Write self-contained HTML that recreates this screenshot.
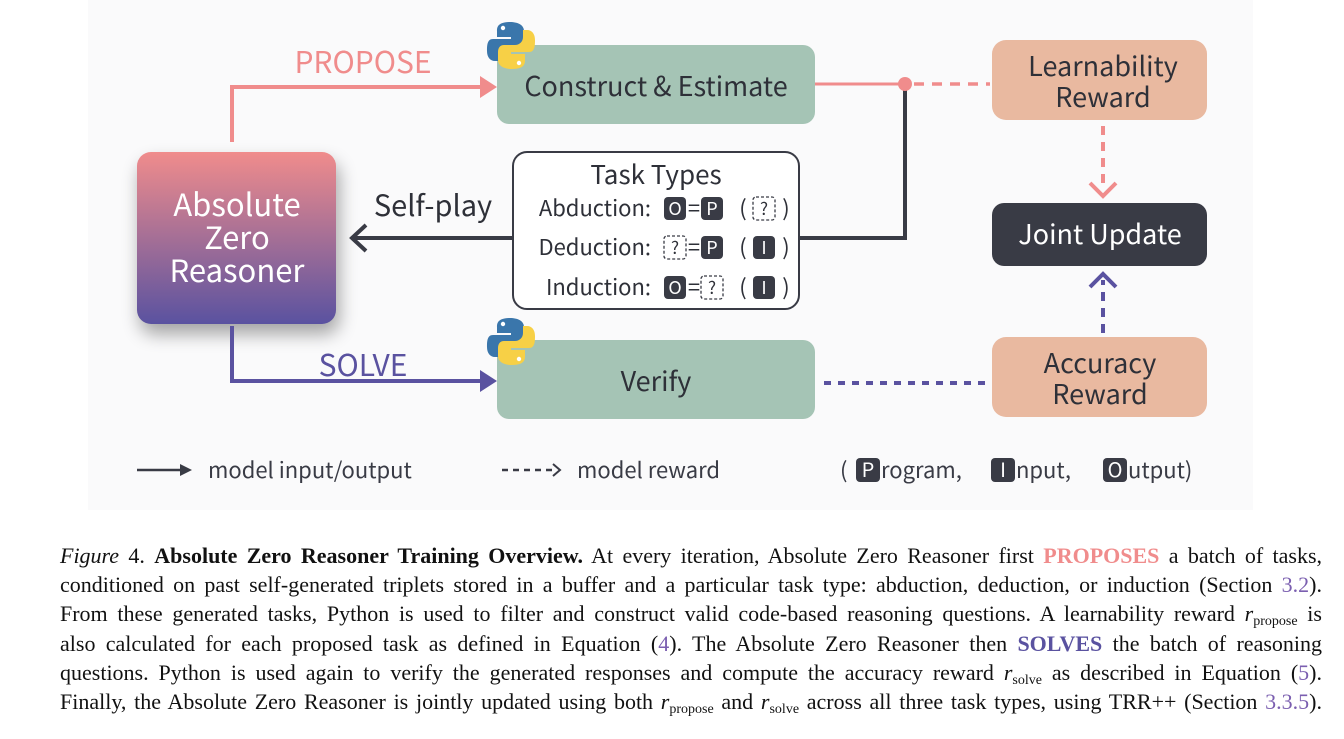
<!DOCTYPE html>
<html><head><meta charset="utf-8"><style>
body{margin:0;width:1344px;height:739px;background:#fff;position:relative;overflow:hidden}
.cap{position:absolute;left:60px;width:1262px;font-family:"Liberation Serif",serif;font-size:22px;color:#111;text-align:justify;text-align-last:justify;white-space:nowrap;line-height:22px}
.cap span.l{color:#7b5fb0}
.s{font-size:14px;vertical-align:-4px}
</style></head><body>
<svg width="1344" height="739" style="position:absolute;left:0;top:0" font-family="'Noto Sans CJK KR','DejaVu Sans',sans-serif">
<defs>
<linearGradient id="g" x1="0" y1="0" x2="0" y2="1"><stop offset="0" stop-color="#f08c8c"/><stop offset="1" stop-color="#5a52a0"/></linearGradient>
<filter id="sh" x="-30%" y="-30%" width="160%" height="160%"><feGaussianBlur stdDeviation="9"/></filter>
<g id="py">
<path d="M23 0 C10 0 10 6 10 9 V15 H24 V17 H6 C0 17 0 24 0 29 C0 35 3 39 8 39 H12 V32 C12 27 16 24 20 24 H31 C35 24 37 21 37 17 V9 C37 3 31 0 23 0Z" fill="#3a76ab"/>
<path d="M25 47 C38 47 38 41 38 38 V32 H24 V30 H42 C48 30 48 23 48 18 C48 12 45 8 40 8 H36 V15 C36 20 32 23 28 23 H17 C13 23 11 26 11 30 V38 C11 44 17 47 25 47Z" fill="#f7d046"/>
<circle cx="16" cy="6" r="2.2" fill="#fff"/><circle cx="32" cy="41" r="2.2" fill="#fff"/>
</g>
</defs>
<rect x="88" y="0" width="1165" height="510" fill="#fafafb"/>
<rect x="140" y="162" width="199" height="172" rx="14" fill="#000" opacity="0.35" filter="url(#sh)"/>
<rect x="137" y="152" width="199" height="172" rx="14" fill="url(#g)"/>
<text x="237" y="216" fill="#fff" font-size="31" text-anchor="middle">Absolute</text>
<text x="237" y="249" fill="#fff" font-size="31" text-anchor="middle">Zero</text>
<text x="237" y="282" fill="#fff" font-size="31" text-anchor="middle">Reasoner</text>
<polyline points="232,142 232,87 482,87" fill="none" stroke="#f08c8c" stroke-width="4"/>
<polygon points="480,76 497,87 480,98" fill="#f08c8c"/>
<text x="363" y="73" fill="#f08c8c" font-size="30" text-anchor="middle">PROPOSE</text>
<polyline points="232,326 232,381 482,381" fill="none" stroke="#5a52a0" stroke-width="4"/>
<polygon points="480,370 497,381 480,392" fill="#5a52a0"/>
<text x="363" y="376" fill="#5a52a0" font-size="30" text-anchor="middle">SOLVE</text>
<rect x="497" y="45" width="318" height="79" rx="12" fill="#a5c4b5"/>
<text x="656" y="96" fill="#2e3038" font-size="27" text-anchor="middle">Construct &amp; Estimate</text>
<rect x="497" y="340" width="318" height="79" rx="12" fill="#a5c4b5"/>
<text x="656" y="391" fill="#2e3038" font-size="27" text-anchor="middle">Verify</text>
<use href="#py" x="487" y="22"/>
<use href="#py" x="487" y="318"/>
<line x1="513" y1="238" x2="352" y2="238" stroke="#393b45" stroke-width="4"/>
<polyline points="366,225 352,238 366,251" fill="none" stroke="#393b45" stroke-width="4"/>
<text x="433" y="216" fill="#2e3038" font-size="29" text-anchor="middle">Self-play</text>
<rect x="513" y="152" width="286" height="157" rx="14" fill="#fff" stroke="#393b45" stroke-width="2"/>
<text x="656" y="184" fill="#2e3038" font-size="26" text-anchor="middle">Task Types</text>
<g font-size="22" fill="#2e3038">
<text x="651" y="216" text-anchor="end">Abduction:</text>
<text x="651" y="255" text-anchor="end">Deduction:</text>
<text x="651" y="295" text-anchor="end">Induction:</text>
</g>
<g font-size="18" fill="#fff" text-anchor="middle">
<rect x="664" y="197" width="22" height="23" rx="4" fill="#393b45"/><text x="675" y="215">O</text>
<rect x="701" y="197" width="22" height="23" rx="4" fill="#393b45"/><text x="712" y="215">P</text>
<rect x="701" y="236" width="22" height="23" rx="4" fill="#393b45"/><text x="712" y="254">P</text>
<rect x="753" y="236" width="22" height="23" rx="4" fill="#393b45"/><text x="764" y="254">I</text>
<rect x="664" y="276" width="22" height="23" rx="4" fill="#393b45"/><text x="675" y="294">O</text>
<rect x="753" y="276" width="22" height="23" rx="4" fill="#393b45"/><text x="764" y="294">I</text>
</g>
<g fill="none" stroke="#393b45" stroke-width="1.3" stroke-dasharray="3,2">
<rect x="753" y="197" width="22" height="23" rx="3"/>
<rect x="664" y="236" width="22" height="23" rx="3"/>
<rect x="701" y="276" width="22" height="23" rx="3"/>
</g>
<g font-size="22" fill="#2e3038" text-anchor="middle">
<text x="694" y="216">=</text><text x="743" y="216">(</text><text x="764" y="215" font-size="17">?</text><text x="786" y="216">)</text>
<text x="675" y="254" font-size="17">?</text><text x="694" y="255">=</text><text x="743" y="255">(</text><text x="786" y="255">)</text>
<text x="694" y="295">=</text><text x="712" y="294" font-size="17">?</text><text x="743" y="295">(</text><text x="786" y="295">)</text>
</g>
<polyline points="799,238 905,238 905,84" fill="none" stroke="#393b45" stroke-width="4"/>
<line x1="815" y1="84" x2="905" y2="84" stroke="#f08c8c" stroke-width="3"/>
<circle cx="905" cy="84" r="7" fill="#f08c8c"/>
<line x1="914" y1="84" x2="990" y2="84" stroke="#f08c8c" stroke-width="3.5" stroke-dasharray="10,8"/>
<rect x="992" y="40" width="215" height="80" rx="14" fill="#e9b9a0"/>
<text x="1103" y="76" fill="#2e3038" font-size="27" text-anchor="middle">Learnability</text>
<text x="1103" y="107" fill="#2e3038" font-size="27" text-anchor="middle">Reward</text>
<rect x="992" y="203" width="215" height="63" rx="12" fill="#393b45"/>
<text x="1100" y="244" fill="#fff" font-size="27" text-anchor="middle">Joint Update</text>
<rect x="992" y="337" width="215" height="80" rx="14" fill="#e9b9a0"/>
<text x="1100" y="373" fill="#2e3038" font-size="27" text-anchor="middle">Accuracy</text>
<text x="1100" y="404" fill="#2e3038" font-size="27" text-anchor="middle">Reward</text>
<line x1="1103" y1="126" x2="1103" y2="190" stroke="#f08c8c" stroke-width="4" stroke-dasharray="9,7"/>
<polyline points="1090,183 1103,196 1116,183" fill="none" stroke="#f08c8c" stroke-width="4"/>
<line x1="1103" y1="333" x2="1103" y2="280" stroke="#5a52a0" stroke-width="4" stroke-dasharray="9,7"/>
<polyline points="1090,287 1103,274 1116,287" fill="none" stroke="#5a52a0" stroke-width="4"/>
<line x1="824" y1="383" x2="990" y2="383" stroke="#5a52a0" stroke-width="4" stroke-dasharray="7,7"/>
<line x1="137" y1="470" x2="182" y2="470" stroke="#393b45" stroke-width="2.5"/>
<polygon points="180,464 192,470 180,476" fill="#393b45"/>
<text x="208" y="478" fill="#393b45" font-size="22">model input/output</text>
<line x1="502" y1="470" x2="552" y2="470" stroke="#393b45" stroke-width="2.5" stroke-dasharray="6,5"/>
<polyline points="553,464 560,470 553,476" fill="none" stroke="#393b45" stroke-width="2"/>
<text x="577" y="478" fill="#393b45" font-size="22">model reward</text>
<text x="840" y="478" fill="#393b45" font-size="22">(</text>
<rect x="856" y="458" width="24" height="24" rx="4" fill="#393b45"/><text x="868" y="477" fill="#fff" font-size="20" text-anchor="middle">P</text>
<text x="881" y="478" fill="#393b45" font-size="22">rogram,</text>
<rect x="991" y="458" width="24" height="24" rx="4" fill="#393b45"/><text x="1003" y="477" fill="#fff" font-size="20" text-anchor="middle">I</text>
<text x="1016" y="478" fill="#393b45" font-size="22">nput,</text>
<rect x="1103" y="458" width="24" height="24" rx="4" fill="#393b45"/><text x="1115" y="477" fill="#fff" font-size="20" text-anchor="middle">O</text>
<text x="1128" y="478" fill="#393b45" font-size="22">utput)</text>
</svg>
<div class="cap" style="top:545px"><i>Figure</i> 4. <b>Absolute Zero Reasoner Training Overview.</b> At every iteration, Absolute Zero Reasoner first <b style="color:#f08c8c">PROPOSES</b> a batch of tasks,</div>
<div class="cap" style="top:574px">conditioned on past self-generated triplets stored in a buffer and a particular task type: abduction, deduction, or induction (Section <span class="l">3.2</span>).</div>
<div class="cap" style="top:603px">From these generated tasks, Python is used to filter and construct valid code-based reasoning questions. A learnability reward <i>r</i><span class="s">propose</span> is</div>
<div class="cap" style="top:633px">also calculated for each proposed task as defined in Equation (<span class="l">4</span>). The Absolute Zero Reasoner then <b style="color:#5a52a0">SOLVES</b> the batch of reasoning</div>
<div class="cap" style="top:662px">questions. Python is used again to verify the generated responses and compute the accuracy reward <i>r</i><span class="s">solve</span> as described in Equation (<span class="l">5</span>).</div>
<div class="cap" style="top:691px">Finally, the Absolute Zero Reasoner is jointly updated using both <i>r</i><span class="s">propose</span> and <i>r</i><span class="s">solve</span> across all three task types, using TRR++ (Section <span class="l">3.3.5</span>).</div>
</body></html>
